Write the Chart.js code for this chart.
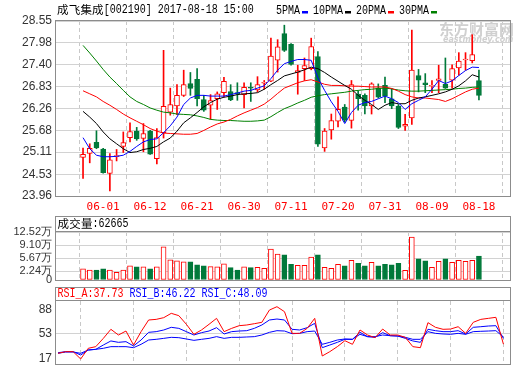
<!DOCTYPE html>
<html>
<head>
<meta charset="utf-8">
<script src="https://cdn.jsdelivr.net/npm/chart.js@4.4.1/dist/chart.umd.min.js"></script>
<style>
  html, body { margin: 0; padding: 0; background: #fff; }
  #wrap { position: relative; width: 520px; height: 365px; overflow: hidden; }
  canvas { position: absolute; left: 0; }
</style>
</head>
<body>
<div id="wrap">
  <canvas id="priceChart" width="520" height="215" style="top:0px"></canvas>
  <canvas id="volChart" width="520" height="72" style="top:215px"></canvas>
  <canvas id="rsiChart" width="520" height="80" style="top:285px"></canvas>
</div>
<script>
// trading days shown (MM-DD)
const dates = ['05-25','05-26','05-31','06-01','06-02','06-05','06-06','06-07','06-08','06-09',
  '06-12','06-13','06-14','06-15','06-16','06-19','06-20','06-21','06-22','06-23',
  '06-26','06-27','06-28','06-29','06-30','07-03','07-04','07-05','07-06','07-07',
  '07-10','07-11','07-12','07-13','07-14','07-17','07-18','07-19','07-20','07-21',
  '07-24','07-25','07-26','07-27','07-28','07-31','08-01','08-02','08-03','08-04',
  '08-07','08-08','08-09','08-10','08-11','08-14','08-15','08-16','08-17','08-18'];

const opens = [24.97,25.08,25.37,25.19,24.55,24.99,25.26,25.49,25.66,25.47,
  25.66,24.94,25.62,26.16,26.32,26.60,26.91,27.02,26.49,26.34,
  26.51,26.67,26.70,26.67,26.62,26.81,26.74,26.92,26.97,27.52,
  28.22,27.94,27.20,27.30,27.30,27.62,25.22,25.69,25.92,26.29,
  25.94,26.63,26.60,26.32,26.79,26.86,26.51,26.32,25.79,26.01,
  27.12,26.93,26.84,26.99,26.89,27.00,27.32,27.53,27.51,26.99];
const closes = [25.05,25.21,25.22,24.57,24.91,25.02,25.36,25.65,25.46,25.60,
  25.06,25.49,26.31,26.36,26.60,26.88,26.78,26.51,26.21,26.46,
  26.64,26.97,26.48,26.64,26.81,26.79,26.88,26.94,27.63,27.87,
  27.78,27.41,27.25,27.38,27.88,25.32,25.66,25.94,26.23,25.95,
  26.88,26.51,26.32,26.90,26.55,26.58,26.32,25.76,25.84,27.26,
  27.00,26.88,26.86,27.03,26.79,27.30,27.50,27.55,27.67,26.60];
const highs = [25.22,25.33,25.67,25.21,25.07,25.18,25.64,25.88,25.76,25.86,
  25.68,25.73,27.78,26.79,26.88,27.26,27.20,27.30,26.60,26.62,
  26.69,27.07,26.88,26.93,26.93,26.93,27.09,26.99,28.10,28.06,
  28.44,27.96,27.39,27.58,28.10,27.75,25.73,26.11,26.56,26.36,
  26.99,26.72,26.64,26.93,26.90,27.08,26.78,26.36,26.10,28.31,
  27.28,27.17,26.99,27.39,27.58,27.40,27.72,27.72,28.19,27.26];
const lows = [24.42,24.83,25.20,24.56,24.09,24.88,25.10,25.38,25.42,25.12,
  25.05,24.80,25.48,26.08,26.09,26.57,26.60,26.32,26.18,25.97,
  26.23,26.56,26.46,26.47,26.27,26.44,26.69,26.76,26.96,27.21,
  27.75,27.39,26.63,26.99,27.27,25.26,25.13,25.45,25.77,25.90,
  25.74,26.21,26.11,26.11,26.53,26.41,26.25,25.73,25.68,25.84,
  26.69,26.67,26.67,26.67,26.78,26.79,27.13,27.26,27.45,26.48];

const ma5 = [25.49,25.20,25.03,24.99,24.99,25.00,25.03,25.13,25.26,25.38,
  25.44,25.46,25.62,25.80,26.03,26.36,26.53,26.60,26.60,26.58,
  26.58,26.58,26.62,26.66,26.71,26.73,26.79,26.85,27.04,27.26,
  27.43,27.49,27.54,27.54,27.52,27.06,26.73,26.43,26.18,25.86,
  26.15,26.34,26.41,26.44,26.51,26.58,26.51,26.41,26.23,26.38,
  26.47,26.56,26.76,26.99,26.91,26.98,27.12,27.25,27.34,27.33];
const ma10 = [26.18,26.03,25.86,25.64,25.46,25.33,25.20,25.10,25.12,25.18,
  25.21,25.26,25.38,25.48,25.66,25.88,26.01,26.15,26.30,26.41,
  26.50,26.55,26.58,26.62,26.64,26.65,26.67,26.76,26.88,26.99,
  27.11,27.16,27.21,27.27,27.34,27.30,27.20,27.08,26.97,26.86,
  26.76,26.60,26.47,26.36,26.23,26.34,26.41,26.38,26.38,26.47,
  26.53,26.56,26.60,26.64,26.69,26.76,26.85,26.98,27.14,27.08];
const ma20 = [26.72,26.64,26.56,26.44,26.34,26.23,26.11,26.01,25.92,25.83,
  25.73,25.66,25.61,25.60,25.59,25.58,25.58,25.60,25.68,25.77,
  25.85,25.90,25.97,26.06,26.14,26.21,26.28,26.37,26.50,26.65,
  26.79,26.86,26.93,26.98,27.01,26.95,26.89,26.86,26.86,26.85,
  26.84,26.84,26.83,26.82,26.82,26.82,26.78,26.71,26.62,26.56,
  26.53,26.53,26.51,26.49,26.44,26.51,26.60,26.69,26.76,26.79];
const ma30 = [27.91,27.71,27.50,27.28,27.08,26.91,26.73,26.56,26.44,26.36,
  26.27,26.21,26.16,26.14,26.11,26.10,26.09,26.06,26.02,25.97,
  25.95,25.94,25.94,25.93,25.92,25.92,25.93,25.95,26.04,26.15,
  26.25,26.32,26.40,26.47,26.55,26.59,26.62,26.64,26.66,26.68,
  26.71,26.73,26.75,26.76,26.78,26.79,26.77,26.74,26.72,26.71,
  26.71,26.72,26.73,26.74,26.75,26.76,26.78,26.79,26.81,26.82];

// volume in 万 (10k) shares
const volumes = [2.89,2.62,2.62,2.89,2.62,2.01,2.62,3.67,3.41,3.41,
  2.89,3.41,8.66,5.25,4.99,4.72,4.72,3.94,3.67,3.50,
  3.41,4.20,3.24,2.62,3.41,3.24,3.32,3.06,8.05,6.74,
  6.56,4.11,3.85,3.85,5.95,6.56,3.32,3.06,4.11,3.67,
  5.16,4.37,3.67,4.64,3.67,4.11,3.94,4.37,2.54,11.2,
  5.51,4.99,3.32,4.90,5.51,4.64,5.16,4.90,5.16,6.2665];

const rsiA = [24.4,26.8,26.8,16.1,31.7,34.1,46.2,59.4,51.1,56.9,
  36.5,56.0,73.0,73.9,76.4,82.7,79.3,66.7,52.1,58.4,
  66.7,75.4,56.0,60.8,64.7,65.7,67.6,69.6,87.5,92.4,
  85.1,53.5,53.5,60.8,75.4,20.5,26.8,34.1,42.8,37.5,
  58.4,51.1,47.2,59.8,51.1,51.1,47.7,34.1,32.6,69.1,
  62.3,59.4,59.8,63.2,53.5,69.6,73.9,75.4,76.9,37.73];
const rsiB = [25.3,26.8,26.8,21.9,29.2,30.2,36.5,42.4,40.4,41.4,
  35.1,43.8,55.0,56.0,58.4,62.3,60.8,56.0,51.1,54.5,
  56.9,61.8,52.6,56.0,56.9,57.4,60.8,65.7,73.0,74.4,
  73.0,59.4,58.4,61.8,68.1,32.6,36.5,40.4,44.8,44.8,
  55.0,48.7,47.7,54.5,50.1,49.6,46.2,42.4,40.4,59.4,
  57.4,56.0,56.0,57.4,52.6,62.3,63.2,64.2,64.7,46.22];
const rsiC = [24.4,26.3,26.3,24.4,29.2,30.2,31.7,34.1,34.1,34.1,
  32.6,37.5,43.8,44.8,46.2,47.7,47.2,45.3,43.3,44.8,
  46.2,48.7,46.2,47.7,47.7,48.2,48.7,51.1,55.0,57.4,
  56.9,53.0,53.5,56.0,56.9,37.5,40.4,43.8,45.3,44.8,
  52.1,48.7,48.7,51.1,50.1,49.6,47.7,44.8,44.8,56.0,
  53.5,52.6,52.1,53.5,52.1,56.0,56.5,56.9,57.4,48.09];

const priceTicks = [23.96, 24.53, 25.11, 25.68, 26.26, 26.83, 27.40, 27.98, 28.55];
const volTicks = [0, 2.24, 5.67, 9.10, 12.52];
const rsiTicks = [17, 53, 88];
const dateTicks = [3, 10, 17, 24, 31, 38, 45, 52, 59];

const title = '成飞集成[002190] 2017-08-18 15:00';
const maNames = ['5PMA', '10PMA', '20PMA', '30PMA'];

const RED = '#ff0000';
const GREEN = '#00793a';
const GRID = '#d2d2d2';
const VGRID = '#c8c8c8';
const FRAME = '#8c8c8c';
const maColors = ['#0000ff', '#000000', '#ff0000', '#008000'];

const up = closes.map((c, i) => c >= opens[i]);

// SimSun-like text: ascii 6px wide, CJK 12px wide
function drawMixed(ctx, text, x, y, color) {
  ctx.save();
  ctx.fillStyle = color;
  ctx.textBaseline = 'middle';
  for (const ch of text) {
    if (ch.charCodeAt(0) > 0x2e80) {
      ctx.font = "11.5px 'Noto Sans CJK SC'";
      ctx.fillText(ch, x, y);
      x += 11.7;
    } else {
      ctx.save();
      ctx.translate(x, y);
      ctx.scale(0.833, 1);
      ctx.font = "12px 'Liberation Mono'";
      ctx.fillText(ch, 0, 0);
      ctx.restore();
      x += 6;
    }
  }
  ctx.restore();
  return x;
}

function xScale(showLabels) {
  return {
    type: 'linear',
    min: -0.27,
    max: 59.87,
    afterBuildTicks: s => { s.ticks = dateTicks.map(v => ({ value: v })); },
    afterFit: s => { s.height = showLabels ? 19 : 0; s.paddingLeft = 0; s.paddingRight = 0; },
    grid: { color: VGRID, drawTicks: false },
    border: { display: false, dash: [4, 3] },
    ticks: {
      display: showLabels, padding: 5, color: RED, maxRotation: 0, autoSkip: false,
      font: { family: "'DejaVu Sans Mono', monospace", size: 11 },
      callback: v => dates[v]
    }
  };
}

function yScale(min, max, ticks, fmt, size, gridColor) {
  return {
    min: min,
    max: max,
    afterBuildTicks: s => { s.ticks = ticks.map(v => ({ value: v })); },
    afterFit: s => { s.width = 56; s.paddingTop = 0; s.paddingBottom = 0; },
    grid: { color: gridColor, drawTicks: false },
    border: { display: false },
    ticks: {
      padding: 4, color: '#333', autoSkip: false,
      font: { family: "'Liberation Sans', Arial, sans-serif", size: size },
      callback: fmt
    }
  };
}

function frame(ctx, l, t, r, b) {
  ctx.save();
  ctx.strokeStyle = FRAME;
  ctx.lineWidth = 1;
  ctx.strokeRect(Math.round(l) - 0.5, Math.round(t) - 0.5, Math.round(r - l) + 1, Math.round(b - t) + 1);
  ctx.restore();
}

const baseOpts = {
  responsive: false,
  animation: false,
  devicePixelRatio: 1,
  events: [],
  plugins: { legend: { display: false }, tooltip: { enabled: false } }
};

// ---------- price chart ----------
const priceDeco = {
  id: 'priceDeco',
  beforeDatasetsDraw(chart) {
    const ctx = chart.ctx;
    ctx.save();
    ctx.fillStyle = '#d0d0d0';
    ctx.textBaseline = 'middle';
    ctx.font = "bold 15px 'Noto Sans CJK SC'";
    ctx.fillText('东方财富网', 439, 29);
    ctx.font = "bold italic 8px 'DejaVu Sans'";
    ctx.fillText('eastmoney.com', 443, 40);
    ctx.restore();
  },
  afterDraw(chart) {
    const { ctx, chartArea: a } = chart;
    frame(ctx, a.left, a.top, a.right, a.bottom);
    drawMixed(ctx, title, 57, 10, '#000');
    let x = 276;
    maNames.forEach((n, k) => {
      x = drawMixed(ctx, n, x, 10.5, '#000') + 1.5;
      ctx.fillStyle = maColors[k];
      ctx.fillRect(Math.round(x), 11, 6, 2.5);
      x += 11.5;
    });
  }
};

const maSets = [ma5, ma10, ma20, ma30].map((arr, k) => ({
  type: 'line',
  data: arr.map((v, i) => ({ x: i, y: v })),
  borderColor: maColors[k],
  borderWidth: 1,
  pointRadius: 0,
  tension: 0,
  order: 0
}));

new Chart(document.getElementById('priceChart'), {
  type: 'bar',
  data: {
    datasets: [
      ...maSets,
      {
        type: 'bar',
        data: opens.map((o, i) => ({ x: i, y: [o, closes[i]] })),
        backgroundColor: up.map(u => u ? '#ffffff' : GREEN),
        borderColor: up.map(u => u ? RED : GREEN),
        borderWidth: 1,
        borderSkipped: false,
        barThickness: 5,
        grouped: false,
        order: 1
      },
      {
        type: 'bar',
        data: lows.map((l, i) => ({ x: i, y: [l, highs[i]] })),
        backgroundColor: up.map(u => u ? RED : GREEN),
        borderWidth: 0,
        barThickness: 1,
        grouped: false,
        order: 2
      }
    ]
  },
  options: {
    ...baseOpts,
    layout: { padding: { top: 21, right: 10, bottom: 0, left: 0 } },
    scales: {
      x: xScale(true),
      y: yScale(23.96, 28.55, priceTicks, v => v.toFixed(2), 12, GRID)
    }
  },
  plugins: [priceDeco]
});

// ---------- volume chart ----------
const volDeco = {
  id: 'volDeco',
  afterDraw(chart) {
    const { ctx, chartArea: a } = chart;
    frame(ctx, a.left, 2, a.right, a.bottom);
    frame(ctx, a.left, a.top, a.right, a.bottom);
    drawMixed(ctx, '成交量:' + Math.round(volumes[volumes.length - 1] * 10000), 57.5, 9, '#000');
  }
};

new Chart(document.getElementById('volChart'), {
  type: 'bar',
  data: {
    datasets: [{
      data: volumes.map((v, i) => ({ x: i, y: v })),
      backgroundColor: up.map(u => u ? '#ffffff' : GREEN),
      borderColor: up.map(u => u ? RED : GREEN),
      borderWidth: 1,
      borderSkipped: false,
      barThickness: 5,
      grouped: false
    }]
  },
  options: {
    ...baseOpts,
    layout: { padding: { top: 17, right: 10, bottom: 7, left: 0 } },
    scales: {
      x: xScale(false),
      y: yScale(0, 12.52, volTicks, v => v === 0 ? '0' : v.toFixed(2) + '万', 11, GRID)
    }
  },
  plugins: [volDeco]
});

// ---------- RSI chart ----------
const rsiDeco = {
  id: 'rsiDeco',
  afterDraw(chart) {
    const { ctx, chartArea: a } = chart;
    frame(ctx, a.left, 3, a.right, a.bottom);
    frame(ctx, a.left, a.top, a.right, a.bottom);
    const n = rsiA.length - 1;
    drawMixed(ctx, 'RSI_A:' + rsiA[n].toFixed(2), 57.5, 9, RED);
    drawMixed(ctx, 'RSI_B:' + rsiB[n].toFixed(2), 129.5, 9, '#0000ff');
    drawMixed(ctx, 'RSI_C:' + rsiC[n].toFixed(2), 201.5, 9, '#0000ff');
  }
};

const rsiSets = [[rsiA, RED], [rsiB, '#0000ff'], [rsiC, '#0000ff']].map(([arr, c]) => ({
  data: arr.map((v, i) => ({ x: i, y: v })),
  borderColor: c,
  borderWidth: 1,
  pointRadius: 0,
  tension: 0
}));

new Chart(document.getElementById('rsiChart'), {
  type: 'line',
  data: { datasets: rsiSets },
  options: {
    ...baseOpts,
    layout: { padding: { top: 16, right: 10, bottom: 1, left: 0 } },
    scales: {
      x: xScale(false),
      y: yScale(8.8, 100.7, rsiTicks, v => String(v), 12,
        c => c.tick.value === 53 ? GRID : 'rgba(0,0,0,0)')
    }
  },
  plugins: [rsiDeco]
});
</script>
</body>
</html>
